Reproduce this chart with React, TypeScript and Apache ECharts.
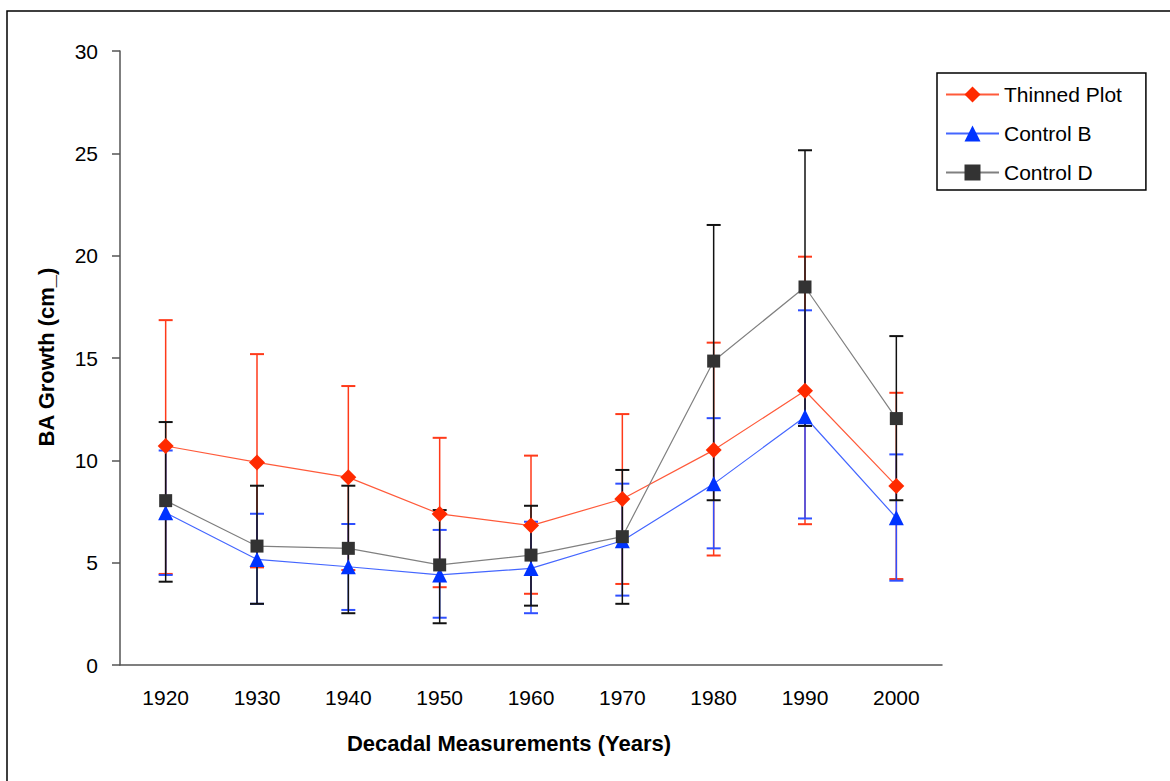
import React, { useEffect, useRef } from "react";
import * as echarts from "echarts";

const categories = ["1920", "1930", "1940", "1950", "1960", "1970", "1980", "1990", "2000"];

const thinned = [10.7, 9.9, 9.17, 7.38, 6.81, 8.11, 10.5, 13.4, 8.75];
const thinnedHigh = [16.85, 15.19, 13.63, 11.1, 10.23, 12.26, 15.75, 19.95, 13.3];
const thinnedLow = [4.45, 4.77, 4.64, 3.8, 3.48, 3.96, 5.35, 6.88, 4.2];

const controlB = [7.44, 5.16, 4.8, 4.4, 4.72, 6.07, 8.85, 12.13, 7.19];
const controlBHigh = [10.48, 7.39, 6.89, 6.6, 7.0, 8.86, 12.06, 17.33, 10.29];
const controlBLow = [4.4, 2.99, 2.69, 2.31, 2.53, 3.39, 5.7, 7.16, 4.12];

const controlD = [8.03, 5.81, 5.7, 4.89, 5.37, 6.27, 14.85, 18.47, 12.04];
const controlDHigh = [11.87, 8.76, 8.76, 7.57, 7.78, 9.53, 21.5, 25.15, 16.07];
const controlDLow = [4.07, 2.99, 2.53, 2.04, 2.9, 2.99, 8.05, 11.68, 8.05];

const yTicks = { min: 0, max: 30, interval: 5 };

const xTitle = "Decadal Measurements (Years)";
const yTitle = "BA Growth (cm_)";

const FONT = "Liberation Sans";

function errSeries(name: string, low: number[], high: number[], color: string) {
  return {
    type: "custom",
    name,
    data: categories.map((_, i) => [i, low[i], high[i]]),
    encode: { x: 0, y: [1, 2] },
    silent: true,
    renderItem: (params: any, api: any) => {
      const x = api.value(0);
      const lo = api.coord([x, api.value(1)]);
      const hi = api.coord([x, api.value(2)]);
      const hw = 7;
      const style = { stroke: color, lineWidth: 1.5 };
      return {
        type: "group",
        children: [
          { type: "line", shape: { x1: lo[0], y1: lo[1], x2: hi[0], y2: hi[1] }, style },
          { type: "line", shape: { x1: lo[0] - hw, y1: lo[1], x2: lo[0] + hw, y2: lo[1] }, style: { stroke: color, lineWidth: 2 } },
          { type: "line", shape: { x1: hi[0] - hw, y1: hi[1], x2: hi[0] + hw, y2: hi[1] }, style: { stroke: color, lineWidth: 2 } },
        ],
      };
    },
  };
}

export default function App() {
  const ref = useRef<HTMLDivElement>(null);
  useEffect(() => {
    document.body.style.margin = "0";
    const chart = echarts.init(ref.current!, null, { renderer: "svg" });
    chart.setOption({
      animation: false,
      backgroundColor: "#fff",
      textStyle: { fontFamily: FONT },
      grid: { left: 120, top: 51, right: 228, bottom: 116, containLabel: false },
      graphic: [
        {
          type: "rect",
          shape: { x: 7, y: 11, width: 1180, height: 800 },
          style: { fill: "none", stroke: "#000", lineWidth: 1.5 },
          silent: true,
        },
        {
          type: "text",
          x: 509,
          y: 743,
          style: {
            text: xTitle,
            fontSize: 22,
            fontWeight: "bold",
            fontFamily: FONT,
            fill: "#000",
            align: "center",
            verticalAlign: "middle",
          },
          silent: true,
        },
        {
          type: "text",
          x: 46,
          y: 357,
          rotation: Math.PI / 2,
          style: {
            text: yTitle,
            fontSize: 22,
            fontWeight: "bold",
            fontFamily: FONT,
            fill: "#000",
            align: "center",
            verticalAlign: "middle",
          },
          silent: true,
        },
      ],
      xAxis: {
        type: "category",
        data: categories,
        boundaryGap: true,
        axisLine: { lineStyle: { color: "#555", width: 1.5 } },
        axisTick: { length: 8, lineStyle: { color: "#555", width: 1.5 } },
        axisLabel: { fontSize: 21, color: "#000", margin: 22, fontFamily: FONT },
      },
      yAxis: {
        type: "value",
        min: yTicks.min,
        max: yTicks.max,
        interval: yTicks.interval,
        splitLine: { show: false },
        axisLine: { show: true, lineStyle: { color: "#555", width: 1.5 } },
        axisTick: { show: true, length: 8, lineStyle: { color: "#555", width: 1.5 } },
        axisLabel: { fontSize: 21, color: "#000", margin: 22, fontFamily: FONT },
      },
      legend: {
        data: ["Thinned Plot", "Control B", "Control D"],
        orient: "vertical",
        left: 937,
        top: 73,
        padding: [11, 24, 7, 8],
        itemGap: 18,
        itemWidth: 53,
        itemHeight: 20,
        borderColor: "#000",
        borderWidth: 1.5,
        textStyle: { fontSize: 21, color: "#000", fontFamily: FONT },
      },
      series: [
        errSeries("Thinned err", thinnedLow, thinnedHigh, "#FF3A1A"),
        errSeries("B err", controlBLow, controlBHigh, "#2F4FFF"),
        errSeries("D err", controlDLow, controlDHigh, "#111111"),
        {
          type: "line",
          name: "Thinned Plot",
          data: thinned,
          symbol: "diamond",
          symbolSize: 16,
          lineStyle: { color: "#FF5A3A", width: 1.2 },
          itemStyle: { color: "#FF2A00" },
        },
        {
          type: "line",
          name: "Control B",
          data: controlB,
          symbol: "triangle",
          symbolSize: 15,
          lineStyle: { color: "#4466FF", width: 1.2 },
          itemStyle: { color: "#0033FF" },
        },
        {
          type: "line",
          name: "Control D",
          data: controlD,
          symbol: "rect",
          symbolSize: 13,
          lineStyle: { color: "#808080", width: 1.2 },
          itemStyle: { color: "#333333" },
        },
      ],
    });
    return () => chart.dispose();
  }, []);
  return <div ref={ref} style={{ width: 1170, height: 781 }} />;
}
